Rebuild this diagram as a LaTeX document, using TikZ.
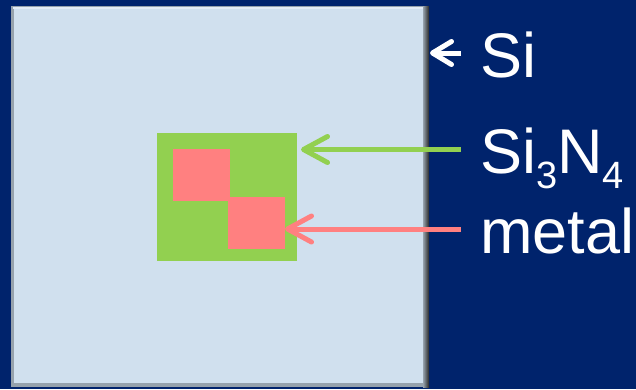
\documentclass[tikz,border=0pt]{standalone}
\usepackage{fontspec}
\setmainfont{Liberation Sans}
\usetikzlibrary{arrows.meta,positioning,calc}
\definecolor{slideNavy}{RGB}{0,35,108}
\definecolor{siBlue}{RGB}{208,224,238}
\definecolor{bevelGray}{RGB}{150,162,172}
\definecolor{nitrideGreen}{RGB}{146,208,80}
\definecolor{metalPink}{RGB}{255,128,128}
\newcommand\labelfont{\fontsize{63}{70}\selectfont}
\newcommand\chemsub[1]{\raisebox{-15pt}{\fontsize{38}{40}\selectfont #1}}

\begin{document}
\begin{tikzpicture}[x=1pt, y=-1pt,
        layer/.style={inner sep=0pt, outer sep=0pt},
        lbl/.style={text=white, font=\labelfont, anchor=base west,
          inner sep=0pt},
        ptr/.style={line width=5pt,
          -{Straight Barb[length=24pt, width=26pt, line cap=round, line join=round]}},
        ptrsmall/.style={line width=5pt, white,
          -{Straight Barb[length=19pt, width=23pt, line cap=round, line join=round]}}
      ]
        \useasboundingbox (0,0) rectangle (636,389);
        \fill[slideNavy] (0,0) rectangle (636,389);

        % Si wafer with bevelled edge
        \node[layer, fill=bevelGray, minimum width=418pt, minimum height=381pt]
          (wafer) at (220,196.5) {};
        \fill[siBlue!60!white] ([shift={(2,1)}]wafer.north west)
          rectangle ([shift={(-6,3)}]wafer.north east);
        \shade[left color=bevelGray, right color=black!85]
          ([shift={(-6,0)}]wafer.north east) rectangle (wafer.south east);
        \fill[siBlue] ([shift={(3,3)}]wafer.north west)
          rectangle ([shift={(-6,-4)}]wafer.south east);

        % Si3N4 and metal layers
        \node[layer, fill=nitrideGreen, minimum width=140pt, minimum height=128pt]
          (nitride) at (227,197) {};
        \node[layer, fill=metalPink, minimum width=57pt, minimum height=52pt]
          (metalA) at (201.5,175) {};
        \node[layer, fill=metalPink, minimum width=57pt, minimum height=52pt]
          (metalB) at (256.5,223) {};

        % Labels
        \node[lbl] (siLbl) at (480,77) {Si};
        \node[lbl] (nitrideLbl) at (480,173) {Si\chemsub{3}N\chemsub{4}};
        \node[lbl] (metalLbl) at (480,253) {metal};

        % Arrows
        \coordinate (siTail) at (461,53);
        \coordinate (nitrideTail) at (461,149.5);
        \coordinate (metalTail) at (461,229);
        \draw[ptrsmall] (siTail) -- ([xshift=1pt]siTail -| wafer.east);
        \draw[ptr, nitrideGreen] (nitrideTail) -- ([xshift=4pt]nitrideTail -| nitride.east);
        \draw[ptr, metalPink] (metalTail) -- (metalTail -| metalB.east);
      \end{tikzpicture}
\end{document}
